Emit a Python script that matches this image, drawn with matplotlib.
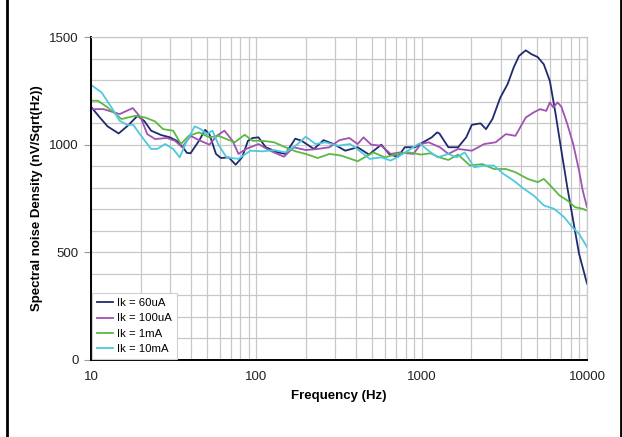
import matplotlib.pyplot as plt
from matplotlib.lines import Line2D
from matplotlib.ticker import FixedLocator, NullFormatter

plt.rcParams['font.family'] = ['Liberation Sans', 'DejaVu Sans']

# Ik = 60uA
f_60u = [10, 11.2, 12.6, 14.7, 16.8, 19.1, 21.0, 23.1, 26.5, 30, 33, 36, 38, 40, 45, 49, 52,
         57, 61, 68, 75, 82, 89, 95, 103, 114, 135, 150, 172, 188, 223, 255, 293, 345, 410,
         480, 570, 640, 720, 790, 910, 1020, 1150, 1240, 1280, 1450, 1660, 1860, 2010, 2270,
         2450, 2680, 2990, 3310, 3600, 3880, 4260, 4620, 5030, 5480, 5960, 6460, 7000, 7600,
         8250, 8950, 10000]
v_60u = [1176, 1130, 1085, 1052, 1090, 1134, 1110, 1065, 1045, 1034, 1018, 988, 962, 960,
         1018, 1069, 1049, 957, 938, 941, 907, 941, 1018, 1031, 1034, 988, 964, 957, 1028,
         1018, 980, 1021, 1003, 972, 988, 954, 1000, 954, 944, 988, 988, 1011, 1034, 1057,
         1052, 988, 988, 1034, 1092, 1099, 1072, 1119, 1219, 1281, 1358, 1412, 1438, 1420,
         1407, 1373, 1296, 1142, 972, 802, 648, 494, 355]

# Ik = 100uA
f_100u = [10, 11.9, 14.9, 17.9, 20, 21.9, 24.4, 28.8, 32.2, 35.6, 40, 45, 52, 57.6, 64.1,
          71.8, 78, 86.7, 103, 121, 147, 168, 199, 235, 277, 318, 365, 410, 445, 495, 570,
          650, 740, 890, 990, 1100, 1290, 1450, 1660, 2010, 2390, 2800, 3230, 3690, 4260,
          4760, 5200, 5670, 5960, 6250, 6640, 7000, 7600, 8250, 8950, 9420, 10000]
v_100u = [1165, 1165, 1142, 1170, 1126, 1049, 1026, 1031, 1018, 988, 1041, 1021, 1000, 1041,
          1065, 1018, 957, 980, 1003, 972, 944, 988, 975, 980, 988, 1021, 1031, 1003, 1034,
          1000, 995, 957, 964, 957, 1003, 1011, 988, 957, 980, 972, 1003, 1011, 1049, 1041,
          1126, 1150, 1165, 1157, 1196, 1173, 1196, 1176, 1096, 1003, 880, 787, 710]

# Ik = 1mA
f_1m = [10, 11, 12.6, 15.3, 18.5, 21.3, 24.4, 27.3, 31.4, 35, 39, 45, 52, 59, 66, 74, 85,
        95, 109, 128, 150, 173, 199, 235, 277, 327, 410, 510, 600, 712, 840, 990, 1130, 1280,
        1450, 1660, 1960, 2330, 2730, 3230, 3690, 4380, 5030, 5480, 6140, 6820, 7600, 8460,
        9420, 10000]
v_1m = [1204, 1204, 1173, 1119, 1134, 1126, 1108, 1072, 1065, 1003, 1041, 1057, 1034, 1041,
        1026, 1011, 1046, 1018, 1018, 1011, 988, 969, 957, 938, 957, 949, 923, 964, 941, 957,
        964, 954, 960, 941, 929, 954, 903, 910, 887, 887, 872, 841, 826, 841, 802, 764, 741,
        710, 702, 694]

# Ik = 10mA
f_10m = [10, 11.6, 13.3, 14.9, 16.6, 18, 20.1, 23.1, 25.1, 28.1, 31.4, 34.4, 38, 42.4, 46.1,
         50, 54.3, 59, 66, 78, 92, 109, 128, 150, 178, 199, 228, 262, 310, 370, 420, 485, 570,
         650, 740, 890, 970, 1100, 1250, 1450, 1630, 1820, 2080, 2390, 2730, 3130, 3600, 4150,
         4760, 5480, 6330, 7260, 8150, 8950, 10000]
v_10m = [1278, 1242, 1173, 1111, 1092, 1092, 1041, 980, 980, 1003, 980, 941, 1018, 1085, 1072,
         1049, 1065, 1000, 941, 934, 972, 969, 975, 964, 1003, 1037, 1003, 1011, 995, 1003, 972,
         934, 941, 926, 949, 988, 1006, 972, 941, 957, 941, 964, 895, 903, 903, 864, 833, 795,
         764, 718, 702, 664, 617, 586, 525]

series = [
    ("Ik = 60uA", f_60u, v_60u, "#1f2b6e"),
    ("Ik = 100uA", f_100u, v_100u, "#a052b2"),
    ("Ik = 1mA", f_1m, v_1m, "#5cb844"),
    ("Ik = 10mA", f_10m, v_10m, "#4ec9dd"),
]

fig = plt.figure(figsize=(6.22, 4.37), dpi=100)
ax = fig.add_axes([91 / 622, 77 / 437, 496 / 622, 323 / 437])

for label, f, v, c in series:
    ax.plot(f, v, color=c, lw=1.3, label=label)

ax.set_xscale("log")
ax.set_xlim(10, 10000)
ax.set_ylim(0, 1500)
ax.set_xticks([10, 100, 1000, 10000])
ax.set_xticklabels(["10", "100", "1000", "10000"])
ax.xaxis.set_minor_locator(FixedLocator([m * d for d in (10, 100, 1000) for m in range(2, 10)]))
ax.xaxis.set_minor_formatter(NullFormatter())
ax.set_yticks([0, 500, 1000, 1500])
ax.yaxis.set_minor_locator(FixedLocator(range(0, 1501, 100)))

ax.grid(True, which="both", color="#c8c8c8", lw=0.9)
ax.set_axisbelow(True)
ax.tick_params(axis="x", which="both", length=0, pad=8, labelsize=9.5, labelcolor="#222222")
ax.tick_params(axis="y", which="major", length=5, color="#999999", pad=4, labelsize=9.5,
               labelcolor="#222222")
ax.tick_params(axis="y", which="minor", length=0)

for side in ("top", "right"):
    ax.spines[side].set_color("#c8c8c8")
    ax.spines[side].set_linewidth(0.9)
for side in ("left", "bottom"):
    ax.spines[side].set_color("black")
    ax.spines[side].set_linewidth(1.4)

ax.set_xlabel("Frequency (Hz)", fontsize=9.5, fontweight="bold", labelpad=5)
ax.set_ylabel("Spectral noise Density (nV/Sqrt(Hz))", fontsize=9.5, fontweight="bold",
              labelpad=4)

leg = ax.legend(loc="lower left", bbox_to_anchor=(0, 0), fontsize=8.2, fancybox=False,
                framealpha=1, edgecolor="#d0d0d0", handlelength=1.4, handletextpad=0.3,
                borderpad=0.5, labelspacing=0.45, borderaxespad=0.05)
leg.get_frame().set_linewidth(0.8)

# page frame lines on both sides
fig.add_artist(Line2D([7 / 622, 7 / 622], [0, 1], color="black", lw=2, transform=fig.transFigure))
fig.add_artist(Line2D([620.5 / 622, 620.5 / 622], [0, 1], color="black", lw=2,
                      transform=fig.transFigure))

fig.savefig("out.png", dpi=100)
